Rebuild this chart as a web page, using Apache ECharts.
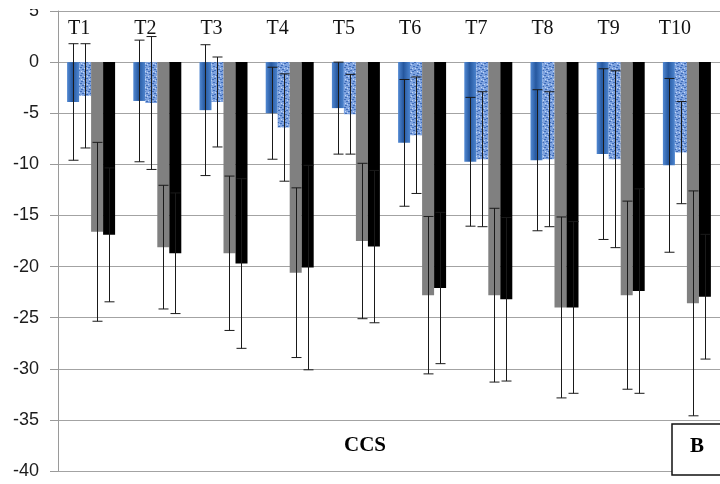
<!DOCTYPE html>
<html>
<head>
<meta charset="utf-8">
<script src="https://cdn.jsdelivr.net/npm/echarts@6/dist/echarts.min.js"></script>
<style>
  html, body { margin: 0; padding: 0; background: #fff; }
  #chart { width: 720px; height: 484px; }
</style>
</head>
<body>
<div id="chart"></div>
<script>
// Treatments T1..T10, four measurements each (mean and spread)
const categories = ['T1', 'T2', 'T3', 'T4', 'T5', 'T6', 'T7', 'T8', 'T9', 'T10'];

const blueMean  = [-3.9, -3.8, -4.7, -5.0, -4.5, -7.9, -9.75, -9.6, -9.0, -10.1];
const blueSd    = [5.7, 5.95, 6.4, 4.5, 4.5, 6.2, 6.3, 6.9, 8.35, 8.5];
const dotMean   = [-3.3, -4.0, -3.9, -6.4, -5.1, -7.15, -9.5, -9.5, -9.5, -8.85];
const dotSd     = [5.1, 6.5, 4.4, 5.25, 3.9, 5.7, 6.6, 6.6, 8.65, 5.0];
const grayMean  = [-16.6, -18.1, -18.7, -20.6, -17.5, -22.8, -22.8, -24.0, -22.8, -23.6];
const graySd    = [8.75, 6.05, 7.55, 8.3, 7.6, 7.7, 8.5, 8.85, 9.2, 11.0];
const blackMean = [-16.9, -18.7, -19.7, -20.1, -18.05, -22.1, -23.2, -24.0, -22.4, -22.95];
const blackSd   = [6.55, 5.9, 8.3, 10.0, 7.45, 7.4, 8.0, 8.4, 10.0, 6.1];

const yTicks = { min: -40, max: 5, interval: 5 };

const BAR_W = 12;
const CAP_W = 10;

// Speckled blue texture for the second series
function speckle() {
  const c = document.createElement('canvas');
  c.width = 8; c.height = 8;
  const g = c.getContext('2d');
  g.fillStyle = '#7ea3e0';
  g.fillRect(0, 0, 8, 8);
  g.fillStyle = '#3f6cb8';
  [[1,1],[5,2],[2,5],[6,6],[0,3],[4,7]].forEach(p => g.fillRect(p[0], p[1], 2, 1));
  g.fillStyle = '#c2d6f5';
  [[3,0],[7,4],[1,7],[4,4]].forEach(p => g.fillRect(p[0], p[1], 1, 1));
  return c;
}

const blueFill = {
  type: 'linear', x: 0, y: 0, x2: 1, y2: 0,
  colorStops: [
    { offset: 0, color: '#5289d3' },
    { offset: 0.45, color: '#26589f' },
    { offset: 1, color: '#4c84cf' }
  ]
};

const groups = [
  { name: 'S1', mean: blueMean, sd: blueSd, color: blueFill },
  { name: 'S2', mean: dotMean, sd: dotSd, color: { image: speckle(), repeat: 'repeat' } },
  { name: 'S3', mean: grayMean, sd: graySd, color: '#808080' },
  { name: 'S4', mean: blackMean, sd: blackSd, color: '#000000' }
];

const barSeries = groups.map(gr => ({
  type: 'bar',
  name: gr.name,
  data: gr.mean,
  barWidth: BAR_W,
  barGap: '0%',
  itemStyle: { color: gr.color },
  z: 2
}));

// Error bars: [categoryIndex, seriesIndex, mean, sd]
const errData = [];
groups.forEach((gr, si) => {
  gr.mean.forEach((m, ci) => errData.push([ci, si, m, gr.sd[ci]]));
});

const errSeries = {
  type: 'custom',
  name: 'err',
  z: 5,
  silent: true,
  data: errData,
  encode: { x: 0, y: 2 },
  renderItem: function (params, api) {
    const ci = api.value(0), si = api.value(1), m = api.value(2), sd = api.value(3);
    const off = (si - 1.5) * BAR_W;
    const top = api.coord([ci, m + sd]);
    const bot = api.coord([ci, m - sd]);
    const x = Math.round(top[0] + off) + 0.5;
    const style = { stroke: '#1a1a1a', lineWidth: 1 };
    return {
      type: 'group',
      children: [
        { type: 'line', shape: { x1: x, y1: top[1], x2: x, y2: bot[1] }, style },
        { type: 'line', shape: { x1: x - CAP_W / 2, y1: top[1], x2: x + CAP_W / 2, y2: top[1] }, style },
        { type: 'line', shape: { x1: x - CAP_W / 2, y1: bot[1], x2: x + CAP_W / 2, y2: bot[1] }, style }
      ]
    };
  }
};

const chart = echarts.init(document.getElementById('chart'), null, { renderer: 'canvas' });
chart.setOption({
  animation: false,
  backgroundColor: '#ffffff',
  grid: { left: 58, top: 11, width: 668, height: 460, containLabel: false },
  xAxis: {
    type: 'category',
    data: categories,
    position: 'top',
    axisLine: { show: false, onZero: false },
    axisTick: { show: false },
    splitLine: { show: false },
    axisLabel: {
      inside: true,
      margin: 8,
      verticalAlign: 'top',
      padding: [0, 24, 0, 0],
      fontFamily: 'Liberation Serif',
      fontSize: 20,
      color: '#111'
    }
  },
  yAxis: {
    type: 'value',
    min: yTicks.min,
    max: yTicks.max,
    interval: yTicks.interval,
    axisLine: { show: true, lineStyle: { color: '#9a9a9a', width: 1 } },
    axisTick: { show: true, length: 8, lineStyle: { color: '#9a9a9a' } },
    splitLine: { show: true, lineStyle: { color: '#a3a3a3', width: 1 } },
    axisLabel: {
      margin: 19,
      fontFamily: 'Liberation Sans',
      fontSize: 18,
      color: '#1c1c1c'
    }
  },
  series: barSeries.concat([errSeries]),
  graphic: [
    { type: 'rect', left: 0, top: 0, shape: { width: 50, height: 9 }, style: { fill: '#fff' }, z: 100 },
    {
      type: 'text', x: 365, y: 446, z: 100,
      style: { text: 'CCS', font: 'bold 21px "Liberation Serif"', fill: '#000', align: 'center', verticalAlign: 'middle' }
    },
    {
      type: 'rect', z: 100,
      shape: { x: 672, y: 424, width: 60, height: 51 },
      style: { fill: '#fff', stroke: '#111', lineWidth: 1.5 }
    },
    {
      type: 'text', x: 697, y: 447, z: 101,
      style: { text: 'B', font: 'bold 21px "Liberation Serif"', fill: '#000', align: 'center', verticalAlign: 'middle' }
    }
  ]
});
</script>
</body>
</html>
